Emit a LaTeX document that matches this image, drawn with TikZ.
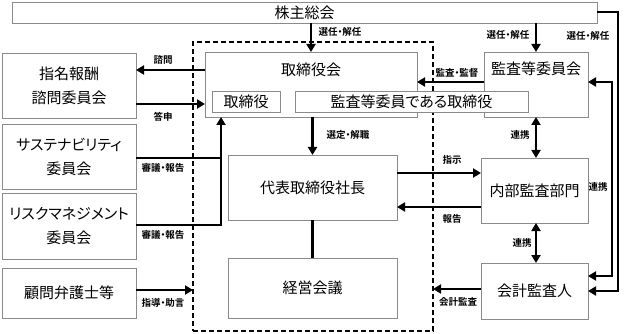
\documentclass[tikz,border=0pt]{standalone}
\usepackage{fontspec}
\setmainfont{Noto Sans CJK JP}[RawFeature=+palt, BoldFont={Noto Sans CJK JP Bold}]
\usetikzlibrary{arrows.meta}
\definecolor{boxgray}{HTML}{8A8A8A}
\begin{document}
\begin{tikzpicture}[x=1pt,y=-1pt,
  box/.style={draw=boxgray, line width=0.9pt, fill=white, inner sep=0pt, outer sep=0pt, align=center, font=\fontsize{15}{24}\selectfont},
  btxt/.style={inner sep=0pt, font=\fontsize{15}{18}\selectfont},
  conn/.style={line width=2.8pt},
  arr/.style={conn, -{Triangle[length=8pt,width=9pt]}},
  darr/.style={conn, {Triangle[length=8pt,width=9pt]}-{Triangle[length=8pt,width=9pt]}},
  lbl/.style={font=\bfseries\fontsize{9.5}{10}\selectfont, inner sep=0pt}]
\useasboundingbox (0,0) rectangle (624,334);

% dashed frame
\node[draw, dashed, line width=1.3pt, dash pattern=on 5pt off 3pt, minimum width=240pt, minimum height=289pt, inner sep=0pt, outer sep=0pt] (dbox) at (313,186.5) {};

% boxes
\node[box, minimum width=585pt, minimum height=21pt] (kabu) at (304.5,12.5) {株主総会};
\node[box, minimum width=134pt, minimum height=65pt] (shimei) at (69,85.5) {指名報酬\\諮問委員会};
\node[box, minimum width=134pt, minimum height=65pt] (sus) at (69,156.5) {サステナビリティ\\委員会};
\node[box, minimum width=134pt, minimum height=66pt] (risk) at (69,226) {リスクマネジメント\\委員会};
\node[box, minimum width=134pt, minimum height=50pt] (komon) at (69,293) {顧問弁護士等};

\node[box, minimum width=212pt, minimum height=65pt] (tk) at (311,84.5) {};
\node[btxt] (tkt) at (311,70) {取締役会};
\node[box, minimum width=104pt, minimum height=65pt] (kan) at (536,84.5) {};
\node[btxt] (kant) at (536,69) {監査等委員会};
\node[box, minimum width=68pt, minimum height=21pt] (sub1) at (246,101.5) {取締役};
\node[box, minimum width=233pt, minimum height=21pt] (sub2) at (411.5,101.5) {監査等委員である取締役};

\node[box, minimum width=169pt, minimum height=65pt] (daihyo) at (312.5,187.5) {代表取締役社長};
\node[box, minimum width=169pt, minimum height=60pt] (keiei) at (312.5,288) {経営会議};
\node[box, minimum width=107pt, minimum height=65pt] (naibu) at (534.5,190.5) {内部監査部門};
\node[box, minimum width=107pt, minimum height=56pt] (kaikei) at (534.5,291) {会計監査人};

% connectors
\draw[arr] (tk.north |- kabu.south) -- (tk.north);
\draw[arr] (kan.north |- kabu.south) -- (kan.north);
\coordinate (ro) at (618,12);
\draw[arr] (kabu.east |- ro) -- (ro) -- (ro |- kaikei.east) -- (kaikei.east);
\coordinate (ri) at (612,82);
\draw[darr] (kan.east |- ri) -- (ri) -- (ri |- 0,276) -- (kaikei.east |- 0,276);

\draw[arr] (tk.west |- 0,70) -- (shimei.east |- 0,70);
\draw[arr] (shimei.east |- 0,104) -- (tk.west |- 0,104);

\coordinate (j) at (221,225);
\draw[conn] (sus.east |- 0,158) -- (j |- 0,158);
\draw[arr] (risk.east |- j) -- (j) -- (j |- tk.south);
\draw[arr] (komon.east |- 0,290) -- (dbox.west |- 0,290);

\draw[arr] (kan.west |- 0,82) -- (tk.east |- 0,82);
\draw[arr] (daihyo.north |- tk.south) -- (daihyo.north);
\draw[conn] (daihyo.south) -- (keiei.north);
\draw[arr] (daihyo.east |- 0,173) -- (naibu.west |- 0,173);
\draw[arr] (naibu.west |- 0,207) -- (daihyo.east |- 0,207);
\draw[darr] (kan.south) -- (kan.south |- naibu.north);
\draw[darr] (kan.south |- naibu.south) -- (kan.south |- kaikei.north);
\draw[arr] (kaikei.west |- 0,289) -- (dbox.east |- 0,289);

% labels
\node[lbl] at (340,32) {選任・解任};
\node[lbl] at (508,35) {選任・解任};
\node[lbl] at (588,36) {選任・解任};
\node[lbl] at (163,60) {諮問};
\node[lbl] at (163,117) {答申};
\node[lbl] at (457,73) {監査・監督};
\node[lbl] at (348,135) {選定・解職};
\node[lbl] at (520,135) {連携};
\node[lbl] at (163,168) {審議・報告};
\node[lbl] at (163,235) {審議・報告};
\node[lbl] at (163,303) {指導・助言};
\node[lbl] at (452,160) {指示};
\node[lbl] at (452,219) {報告};
\node[lbl] at (522,243) {連携};
\node[lbl] at (598,187) {連携};
\node[lbl] at (458,302) {会計監査};
\end{tikzpicture}
\end{document}
